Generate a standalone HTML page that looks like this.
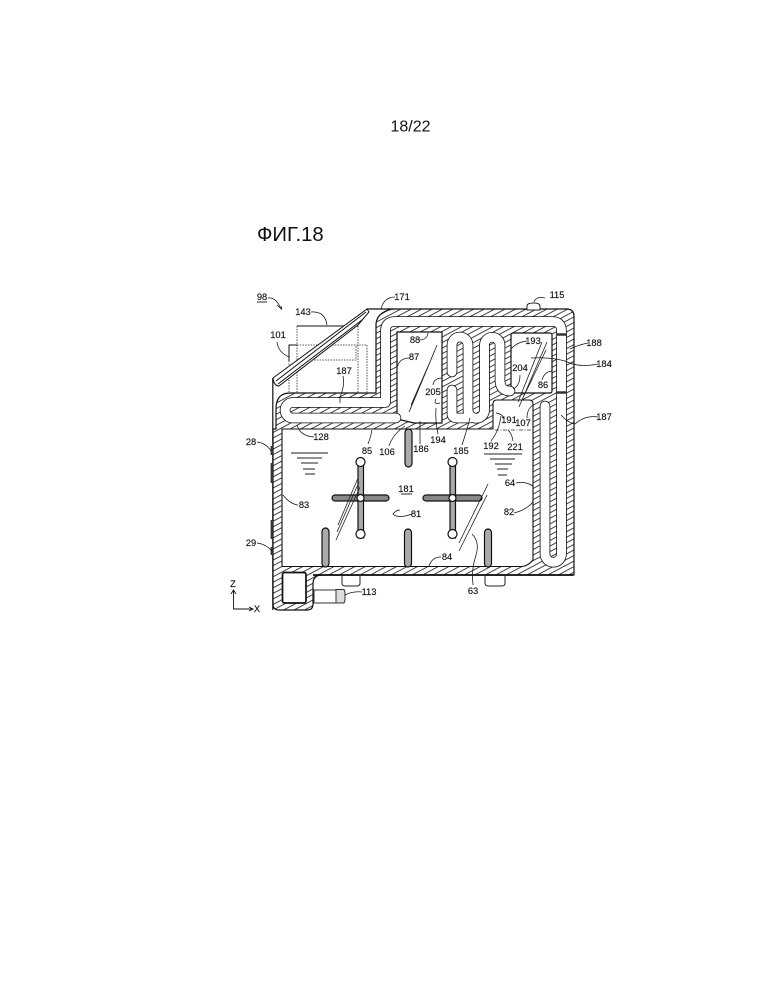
<!DOCTYPE html>
<html><head><meta charset="utf-8"><style>
html,body{margin:0;padding:0;background:#fff}
svg{display:block}
text{font-family:"Liberation Sans",sans-serif;fill:#111}
.l text{font-size:9.3px;text-anchor:middle;stroke:#111;stroke-width:.15}
.t{fill:none;stroke:#111;stroke-width:.75}
.o{fill:none;stroke:#111;stroke-width:1}
.d{fill:none;stroke:#222;stroke-width:.8;stroke-dasharray:1.5 1.2}
.b{filter:blur(.3px)}
</style></head><body>
<svg width="772" height="999" viewBox="0 0 772 999" xmlns="http://www.w3.org/2000/svg">
<defs>
<pattern id="h" width="12" height="4.9" patternUnits="userSpaceOnUse" patternTransform="rotate(-28)">
<rect width="12" height="4.9" fill="#fff"/><rect width="12" height=".85" fill="#222"/>
</pattern>
</defs>
<rect width="772" height="999" fill="#fff"/>
<text x="390.5" y="131.5" font-size="16">18/22</text>
<text x="257" y="241" font-size="20.3">ФИГ.18</text>

<g class="b">
<!-- housing behind -->
<path class="o" d="M297 326H358M289 361V345H297"/>
<path class="d" d="M297 326V425M358 326V425M289 345H367V392M289 392V361M298 360H356V345"/>

<!-- hatched body -->
<path fill="url(#h)" stroke="#111" stroke-width="1.2" d="M290 393H376V325Q376 313 392 309H568Q574 310 574 316V575H322Q313 575 313 584V604Q313 610 307 610H279Q273 610 273 604V429H276V409Q276 393 290 393Z"/>
<path d="M367 309L394 309" stroke="#111" stroke-width="1.2"/>
<!-- main chamber -->
<path fill="#fff" stroke="#111" stroke-width="1.1" d="M282 429H493V404Q493 400 497 400H529Q533 400 533 404V560Q528 566 522 566.5H282Z"/>
<line x1="272.8" y1="378" x2="272.8" y2="610" stroke="#111" stroke-width="1.2"/>
<path d="M313 575H573" stroke="#111" stroke-width="1.8"/>
<!-- pocket -->
<rect x="282.5" y="572.5" width="23.5" height="30.5" rx="2" fill="#fff" stroke="#111" stroke-width="1.7"/>
<path d="M283 566.5H306" stroke="#111" stroke-width="1"/>
<!-- chambers -->
<path fill="#fff" stroke="#111" stroke-width="1.2" d="M397 332H442V423H414L397 419Z"/>
<rect x="511" y="333" width="41" height="60" rx="2" fill="#fff" stroke="#111" stroke-width="1.2"/>

<!-- channels -->
<g fill="none" stroke-linejoin="round" stroke-linecap="round">
<g stroke="#111" stroke-width="10.6">
<path d="M396 418H292A7.8 7.8 0 0 1 292 402.5H385.5V331Q385.5 321.5 395 321.5H552Q561.5 321.5 561.5 331V554A8.25 8.25 0 0 1 545 554V406"/>
<path d="M452 372V345A8 8 0 0 1 468 345V410A8.25 8.25 0 0 0 484.5 410V345A7.75 7.75 0 0 1 500 345V380Q500 391 510 391"/>
<path d="M452 390V414Q452 418 458 418H470"/>
</g>
<g stroke="#fff" stroke-width="9">
<path d="M396 418H292A7.8 7.8 0 0 1 292 402.5H385.5V331Q385.5 321.5 395 321.5H552Q561.5 321.5 561.5 331V554A8.25 8.25 0 0 1 545 554V406"/>
<path d="M452 372V345A8 8 0 0 1 468 345V410A8.25 8.25 0 0 0 484.5 410V345A7.75 7.75 0 0 1 500 345V380Q500 391 510 391"/>
<path d="M452 390V414Q452 418 458 418H470"/>
</g>
</g>
<path d="M557 334.5H566M557 392.5H566" stroke="#333" stroke-width="2.4"/>

<!-- lid -->
<path fill="#fff" stroke="#111" stroke-width="1" d="M273 378L367 309L369 312L358 325L279 386Q274 386 273 378Z"/>
<path d="M276 381L366 312M278 384L362 320" stroke="#111" stroke-width="1" fill="none"/>

<!-- exterior bits -->
<path fill="#fff" stroke="#222" d="M527 310V306Q527 303 533.5 303Q540 303 540 306V310Z"/>
<path fill="#fff" stroke="#222" d="M342 575.5V583Q342 586 345 586H357Q360 586 360 583V575.5Z"/>
<path fill="#fff" stroke="#222" d="M485 575.5V583Q485 586 488 586H502Q505 586 505 583V575.5Z"/>
<path fill="#fff" stroke="#333" d="M314 590H337V603H314Z"/>
<path fill="#ddd" stroke="#333" d="M336 589.5H344L345 592V600L344 603H336Z"/>
<path d="M271.8 446V455M271.8 463V483M271.8 520V539M271.8 547V555" stroke="#333" stroke-width="2.4"/>

<!-- ribs -->
<g fill="#fff" stroke="#111" stroke-width="1.2">
<rect x="322" y="528" width="7" height="39" rx="3.5" fill="#aaa"/>
<rect x="404.5" y="529" width="7" height="38" rx="3.5" fill="#aaa"/>
<rect x="484.5" y="529" width="7" height="38" rx="3.5" fill="#aaa"/>
<rect x="405" y="429" width="7" height="38" rx="3.5" fill="#aaa"/>
<rect x="332" y="495" width="57" height="6" rx="3" fill="#888"/>
<rect x="358" y="460" width="5.5" height="78" fill="#aaa"/>
<circle cx="360.5" cy="462" r="4.5"/><circle cx="360.5" cy="534" r="4.5"/>
<circle cx="360.5" cy="498" r="3.5"/>
<rect x="423" y="495" width="59" height="6" rx="3" fill="#888"/>
<rect x="450" y="460" width="5.5" height="78" fill="#aaa"/>
<circle cx="452.5" cy="462" r="4.5"/><circle cx="452.5" cy="534" r="4.5"/>
<circle cx="452.5" cy="498" r="3.5"/>
</g>

<!-- liquid levels -->
<g stroke="#222" stroke-width=".9">
<path d="M291 453H328M297 458H322M301 463H318M303 469H315M305 474H315"/>
<path d="M484 454H522M490 459H515M495 464H512M497 469H508M498 475H507"/>
</g>
<path d="M495 430H532" stroke="#333" stroke-width=".7" stroke-dasharray="4 1.5 1 1.5" fill="none"/>

<!-- section lines -->
<g stroke="#222" stroke-width=".8" fill="none">
<path d="M437 345L409 412M433 355L411 405M435 350L410 410"/>
<path d="M547 342L519 407M546 350L522 400M542 342L518 402"/>
<path d="M359 482L337 532M360 487L336 540M358 478L338 525"/>
<path d="M488 484L459 543M487 495L459 551"/>
</g>

<!-- leaders -->
<g class="t">
<path d="M268 298Q276 297 281 309"/><path d="M277 305L282 309.5M281 306L282 309.5"/>
<path d="M311 312Q325 311 327 325"/>
<path d="M395 297Q384 297 381 309"/>
<path d="M277 342Q278 352 289 357"/>
<path d="M343 376Q345 386 340 397V403"/>
<path d="M297 425Q300 436 314 437"/>
<path d="M257 442Q266 443 271 451"/>
<path d="M368 444Q371 436 372 430"/>
<path d="M389 446Q393 434 405 426"/>
<path d="M420 444V421"/><path d="M438 434Q435 420 436 408"/>
<path d="M462 445Q466 433 470 418"/>
<path d="M491 441Q499 431 501 416"/><path d="M513 441Q512 434 508 430"/>
<path d="M504 419Q503 414 496 413"/><path d="M527 418Q527 409 533 405"/>
<path d="M433 385Q434 378 442 378"/>
<path d="M440 403Q433 405 436 399"/>
<path d="M409 358Q400 358 397 367"/>
<path d="M419 340Q427 340 428 333"/>
<path d="M527 341Q517 342 511 349"/>
<path d="M520 375Q520 386 513 389"/>
<path d="M542 380Q544 372 552 371"/>
<path d="M545 298Q536 296 534 302"/>
<path d="M588 343Q578 345 570 349"/>
<path d="M598 364Q578 368 565 361Q550 357 531 358"/>
<path d="M598 417Q585 415 575 424Q568 423 561 415"/>
<path d="M516 483Q525 481 533 486"/>
<path d="M514 513Q526 510 533 502"/>
<path d="M412 514Q398 519 393 514Q396 510 400 510"/>
<path d="M298 505Q290 504 283 495"/>
<path d="M257 543Q266 544 272 551"/>
<path d="M441 557Q432 557 429 566"/>
<path d="M473 585Q471 570 476 555Q480 542 472 534"/>
<path d="M362 592Q353 591 345 595"/>
</g>

<g class="l">
<text x="262" y="300">98</text><path d="M257 302H267" stroke="#111" stroke-width=".9"/>
<text x="303" y="315">143</text><text x="402" y="300">171</text><text x="278" y="338">101</text>
<text x="344" y="374">187</text><text x="321" y="440">128</text><text x="251" y="445">28</text>
<text x="367" y="454">85</text><text x="387" y="455">106</text><text x="421" y="452">186</text>
<text x="438" y="443">194</text><text x="461" y="454">185</text><text x="491" y="449">192</text>
<text x="515" y="450">221</text><text x="509" y="423">191</text><text x="523" y="426">107</text>
<text x="433" y="395">205</text><text x="414" y="360">87</text><text x="415" y="343">88</text>
<text x="533" y="344">193</text><text x="520" y="371">204</text><text x="543" y="388">86</text>
<text x="557" y="298">115</text><text x="594" y="346">188</text><text x="604" y="367">184</text>
<text x="604" y="420">187</text><text x="510" y="486">64</text><text x="509" y="515">82</text>
<text x="406" y="492">181</text><path d="M401 494H412" stroke="#111" stroke-width=".9"/>
<text x="416" y="517">81</text><text x="304" y="508">83</text><text x="251" y="546">29</text>
<text x="447" y="560">84</text><text x="473" y="594">63</text><text x="369" y="595">113</text>
<text x="233" y="587">Z</text><text x="257" y="612">X</text>
</g>
<path d="M233.5 590V609H252M231 594L233.5 590L236 594M249 607L253 609L249 611" fill="none" stroke="#111" stroke-width=".9"/>
</g>
</svg>
</body></html>
